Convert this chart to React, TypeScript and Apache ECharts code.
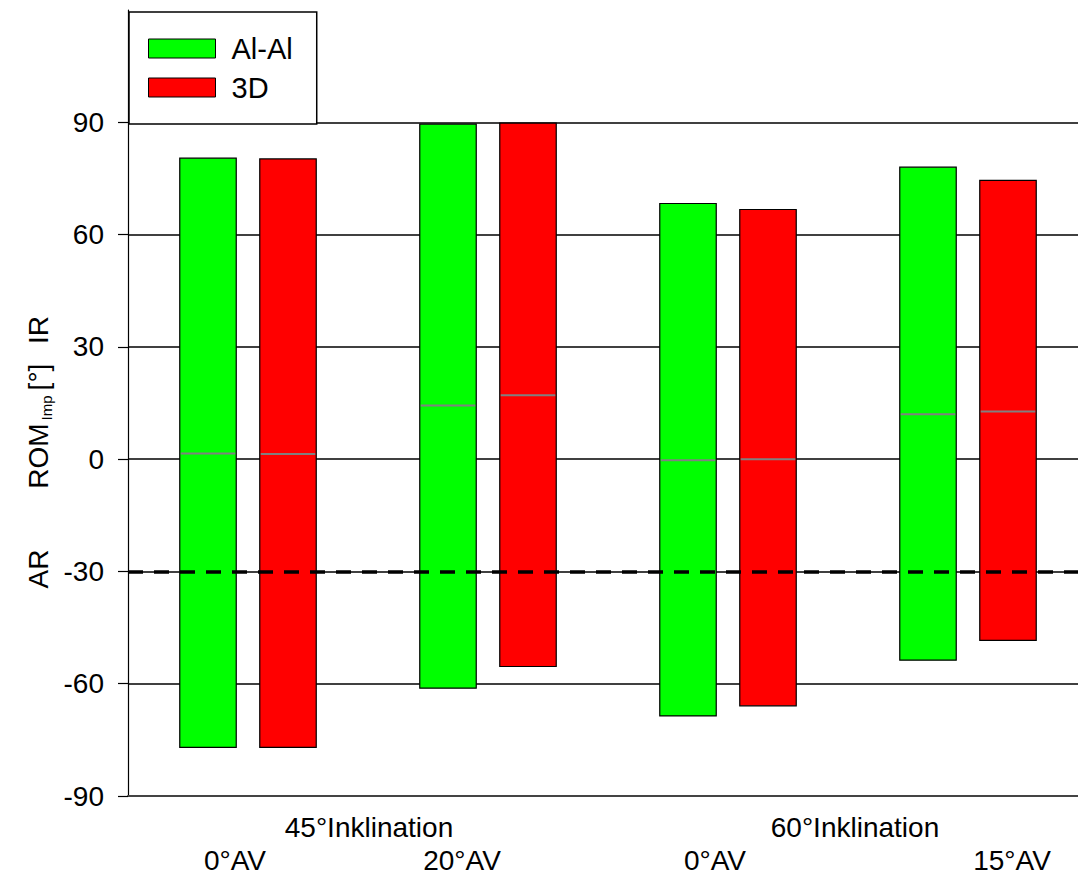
import React, { useEffect, useRef } from "react";
import * as echarts from "echarts";

// ---- data ----
const seriesNames = ["Al-Al", "3D"];
const groupLabels = ["45°Inklination", "60°Inklination"];
const avLabels = ["0°AV", "20°AV", "0°AV", "15°AV"];
const alAlPos = [1, 4, 7, 10];
const threeDPos = [2, 5, 8, 11];
const alAlLow = [-77.0, -61.2, -68.6, -53.7];
const alAlHigh = [80.4, 89.5, 68.3, 78.0];
const alAlMid = [1.5, 14.3, -0.3, 12.0];
const threeDLow = [-77.0, -55.4, -65.9, -48.4];
const threeDHigh = [80.2, 89.8, 66.7, 74.5];
const threeDMid = [1.4, 17.1, 0.0, 12.7];
const yTicks = [-90, -60, -30, 0, 30, 60, 90];
const refLine = -30;

const FONT = "'Liberation Sans', Arial, sans-serif";
const BAR_W = 0.706;

function makeRender(color: string) {
  return (params: any, api: any) => {
    const x = api.value(0);
    const lo = api.value(1);
    const hi = api.value(2);
    const mid = api.value(3);
    const pLo = api.coord([x, lo]);
    const pHi = api.coord([x, hi]);
    const pMid = api.coord([x, mid]);
    const w = api.size([BAR_W, 0])[0];
    return {
      type: "group",
      children: [
        {
          type: "rect",
          shape: { x: pHi[0] - w / 2, y: pHi[1], width: w, height: pLo[1] - pHi[1] },
          style: { fill: color, stroke: "#000", lineWidth: 1.2 },
        },
        {
          type: "line",
          shape: { x1: pMid[0] - w / 2 + 1, y1: pMid[1], x2: pMid[0] + w / 2 - 1, y2: pMid[1] },
          style: { stroke: "#808080", lineWidth: 2 },
        },
      ],
    };
  };
}

function rotText(text: string, x: number, y: number, size: number) {
  return {
    type: "text",
    x,
    y,
    rotation: Math.PI / 2,
    style: {
      text,
      font: `${size}px ${FONT}`,
      fill: "#000",
      textAlign: "center",
      textVerticalAlign: "middle",
      align: "center",
      verticalAlign: "middle",
    },
  };
}

function hText(text: string, x: number, y: number, size: number) {
  return {
    type: "text",
    x,
    y,
    style: {
      text,
      font: `${size}px ${FONT}`,
      fill: "#000",
      textAlign: "center",
      textVerticalAlign: "middle",
      align: "center",
      verticalAlign: "middle",
    },
  };
}

export default function App() {
  const ref = useRef<HTMLDivElement>(null);
  useEffect(() => {
    if (!ref.current) return;
    const chart = echarts.init(ref.current, null, { renderer: "svg" });
    const alAlData = alAlPos.map((p, i) => [p, alAlLow[i], alAlHigh[i], alAlMid[i]]);
    const threeDData = threeDPos.map((p, i) => [p, threeDLow[i], threeDHigh[i], threeDMid[i]]);
    const gridColors = yTicks.map(() => "#000").concat(["rgba(0,0,0,0)"]);
    chart.setOption({
      animation: false,
      backgroundColor: "#fff",
      grid: { left: 128, right: 0, top: 10, bottom: 82, containLabel: false },
      xAxis: {
        type: "value",
        min: 0,
        max: 11.875,
        axisLine: { show: true, onZero: false, lineStyle: { color: "#444", width: 2 } },
        axisTick: { show: false },
        axisLabel: { show: false },
        splitLine: { show: false },
      },
      yAxis: {
        type: "value",
        min: -90,
        max: 120,
        interval: 30,
        axisLine: { show: true, lineStyle: { color: "#000", width: 1.2 } },
        axisTick: { show: true, length: 10, customValues: yTicks, lineStyle: { color: "#000", width: 1.2 } },
        axisLabel: {
          customValues: yTicks,
          margin: 24,
          fontSize: 28,
          fontFamily: FONT,
          color: "#000",
        },
        splitLine: { show: true, lineStyle: { color: gridColors, width: 1.5 } },
      },
      legend: {
        left: 129,
        top: 12,
        orient: "vertical",
        data: seriesNames.map((n) => ({ name: n, icon: "rect" })),
        itemWidth: 67,
        itemHeight: 19,
        itemGap: 10,
        padding: [22, 24, 22, 19],
        borderColor: "#000",
        borderWidth: 1.5,
        backgroundColor: "#fff",
        textStyle: { fontSize: 29, fontFamily: FONT, color: "#000", padding: [0, 0, 0, 11] },
        itemStyle: { borderColor: "#000", borderWidth: 1 },
      },
      series: [
        {
          name: seriesNames[0],
          type: "custom",
          renderItem: makeRender("#00ff00"),
          itemStyle: { color: "#00ff00", borderColor: "#000", borderWidth: 1 },
          encode: { x: 0, y: [1, 2, 3] },
          data: alAlData,
          z: 2,
        },
        {
          name: seriesNames[1],
          type: "custom",
          renderItem: makeRender("#ff0000"),
          itemStyle: { color: "#ff0000", borderColor: "#000", borderWidth: 1 },
          encode: { x: 0, y: [1, 2, 3] },
          data: threeDData,
          z: 2,
          markLine: {
            silent: true,
            symbol: "none",
            label: { show: false },
            lineStyle: { color: "#000", width: 3.5, type: [15, 11] },
            data: [{ yAxis: refLine }],
            z: 5,
          },
        },
      ],
      graphic: [
        hText(groupLabels[0], 369, 827, 28),
        hText(groupLabels[1], 855, 827, 28),
        hText(avLabels[0], 235, 860, 28),
        hText(avLabels[1], 462, 860, 28),
        hText(avLabels[2], 715, 860, 28),
        hText(avLabels[3], 1012, 860, 28),
        rotText("AR", 38, 569, 28),
        rotText("ROM", 38, 456, 28),
        rotText("Imp", 46, 408, 15),
        rotText("[°]", 38, 377, 28),
        rotText("IR", 38, 330, 28),
      ],
    });
    return () => chart.dispose();
  }, []);
  return (
    <div
      ref={ref}
      style={{ position: "fixed", left: 0, top: 0, width: 1078, height: 878 }}
    />
  );
}
